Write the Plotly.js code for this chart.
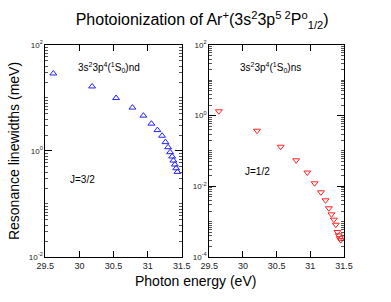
<!DOCTYPE html>
<html><head><meta charset="utf-8">
<script src="https://cdn.plot.ly/plotly-3.0.1.min.js"></script>
<style>html,body{margin:0;padding:0;background:#fff}#chart{width:391px;height:302px}</style>
</head><body><div id="chart"></div>
<script>
// J=3/2 series (nd)
const ndEnergy = [29.617, 30.185, 30.537, 30.776, 30.937, 31.054, 31.142, 31.211, 31.260, 31.299, 31.328, 31.358, 31.377, 31.398, 31.417, 31.436];
const ndWidth  = [29.0, 16.5, 10.0, 6.59, 4.65, 3.28, 2.48, 1.94, 1.47, 1.18, 0.95, 0.787, 0.66, 0.555, 0.472, 0.403];
// J=1/2 series (ns)
const nsEnergy = [29.643, 30.21, 30.56, 30.79, 30.955, 31.063, 31.157, 31.225, 31.275, 31.313, 31.348, 31.378, 31.401, 31.421, 31.436, 31.45];
const nsWidth  = [1.33, 0.375, 0.132, 0.0546, 0.0246, 0.0122, 0.00678, 0.00402, 0.00239, 0.00161, 0.00114, 0.00082, 0.00051, 0.00041, 0.00034, 0.0003];
const xTicks = [29.5, 30, 30.5, 31, 31.5];
const xTickText = ['29.5', '30', '30.5', '31', '31.5'];
const yTicksL = [0.01, 1, 100];
const yTickTextL = ['10<sup>-2</sup>', '10<sup>0</sup>', '10<sup>2</sup>'];
const yTicksR = [0.0001, 0.01, 1, 100];
const yTickTextR = ['10<sup>-4</sup>', '10<sup>-2</sup>', '10<sup>0</sup>', '10<sup>2</sup>'];

const F = 'Arial, "Liberation Sans", sans-serif';
const traces = [
  {x: ndEnergy, y: ndWidth, xaxis: 'x', yaxis: 'y', mode: 'markers', type: 'scatter',
   marker: {symbol: 'triangle-up-open', size: 6, color: '#2222ff', line: {width: 1}}},
  {x: nsEnergy, y: nsWidth, xaxis: 'x2', yaxis: 'y2', mode: 'markers', type: 'scatter',
   marker: {symbol: 'triangle-down-open', size: 6, color: '#ff2222', line: {width: 1}}}
];
const xa = (dom, anchor) => ({domain: dom, anchor: anchor, range: [29.5, 31.5], tickvals: xTicks, ticktext: xTickText,
  ticks: 'inside', ticklen: 6, tickcolor: '#000', mirror: 'ticks', showline: true, linecolor: '#000', linewidth: 1,
  showgrid: false, zeroline: false, tickfont: {size: 9, family: F, color: '#222'}});
const ya = (range, tv, tt, anchor) => ({domain: [0.149, 0.851], anchor: anchor, type: 'log', range: range,
  tickvals: tv, ticktext: tt, ticks: 'inside', ticklen: 7, tickcolor: '#000', mirror: 'ticks', showline: true,
  linecolor: '#000', linewidth: 1, showgrid: false, zeroline: false, tickfont: {size: 8, family: F, color: '#222'},
  minor: {ticks: 'inside', ticklen: 3, tickcolor: '#555', dtick: 'D1', showgrid: false}});
const layout = {
  width: 391, height: 302, margin: {l: 0, r: 0, t: 0, b: 0}, showlegend: false,
  paper_bgcolor: '#fff', plot_bgcolor: '#fff', font: {family: F},
  title: {text: 'Photoionization of Ar<sup>+</sup>(3s<sup>2</sup>3p<sup>5 2</sup>P<sup>o</sup><sub>1/2</sub>)',
    x: 0.517, xanchor: 'center', y: 0.935, yanchor: 'middle', font: {size: 16, family: F, color: '#000'}},
  xaxis: xa([0.116, 0.465], 'y'),
  yaxis: ya([-2, 2], yTicksL, yTickTextL, 'x'),
  xaxis2: xa([0.535, 0.88], 'y2'),
  yaxis2: ya([-4, 2], yTicksR, yTickTextR, 'x2'),
  annotations: [
    {text: 'Photon energy (eV)', xref: 'paper', yref: 'paper', x: 0.5, y: 0.07, yanchor: 'middle', showarrow: false,
     font: {size: 14, family: F, color: '#000'}},
    {text: 'Resonance linewidths (meV)', xref: 'paper', yref: 'paper', x: 0.036, y: 0.5, xanchor: 'center', yanchor: 'middle', showarrow: false, textangle: -90,
     font: {size: 14, family: F, color: '#000'}},
    {text: '3s<sup>2</sup>3p<sup>4</sup>(<sup>1</sup>S<sub>0</sub>)nd', xref: 'paper', yref: 'paper', x: 0.279, y: 0.775, xanchor: 'center', yanchor: 'middle', showarrow: false,
     font: {size: 10, family: F, color: '#000'}},
    {text: 'J=3/2', xref: 'paper', yref: 'paper', x: 0.212, y: 0.404, xanchor: 'center', yanchor: 'middle', showarrow: false,
     font: {size: 10, family: F, color: '#000'}},
    {text: '3s<sup>2</sup>3p<sup>4</sup>(<sup>1</sup>S<sub>0</sub>)ns', xref: 'paper', yref: 'paper', x: 0.693, y: 0.775, xanchor: 'center', yanchor: 'middle', showarrow: false,
     font: {size: 10, family: F, color: '#000'}},
    {text: 'J=1/2', xref: 'paper', yref: 'paper', x: 0.658, y: 0.432, xanchor: 'center', yanchor: 'middle', showarrow: false,
     font: {size: 10, family: F, color: '#000'}}
  ]
};
Plotly.newPlot('chart', traces, layout, {staticPlot: true, displayModeBar: false});
</script></body></html>
